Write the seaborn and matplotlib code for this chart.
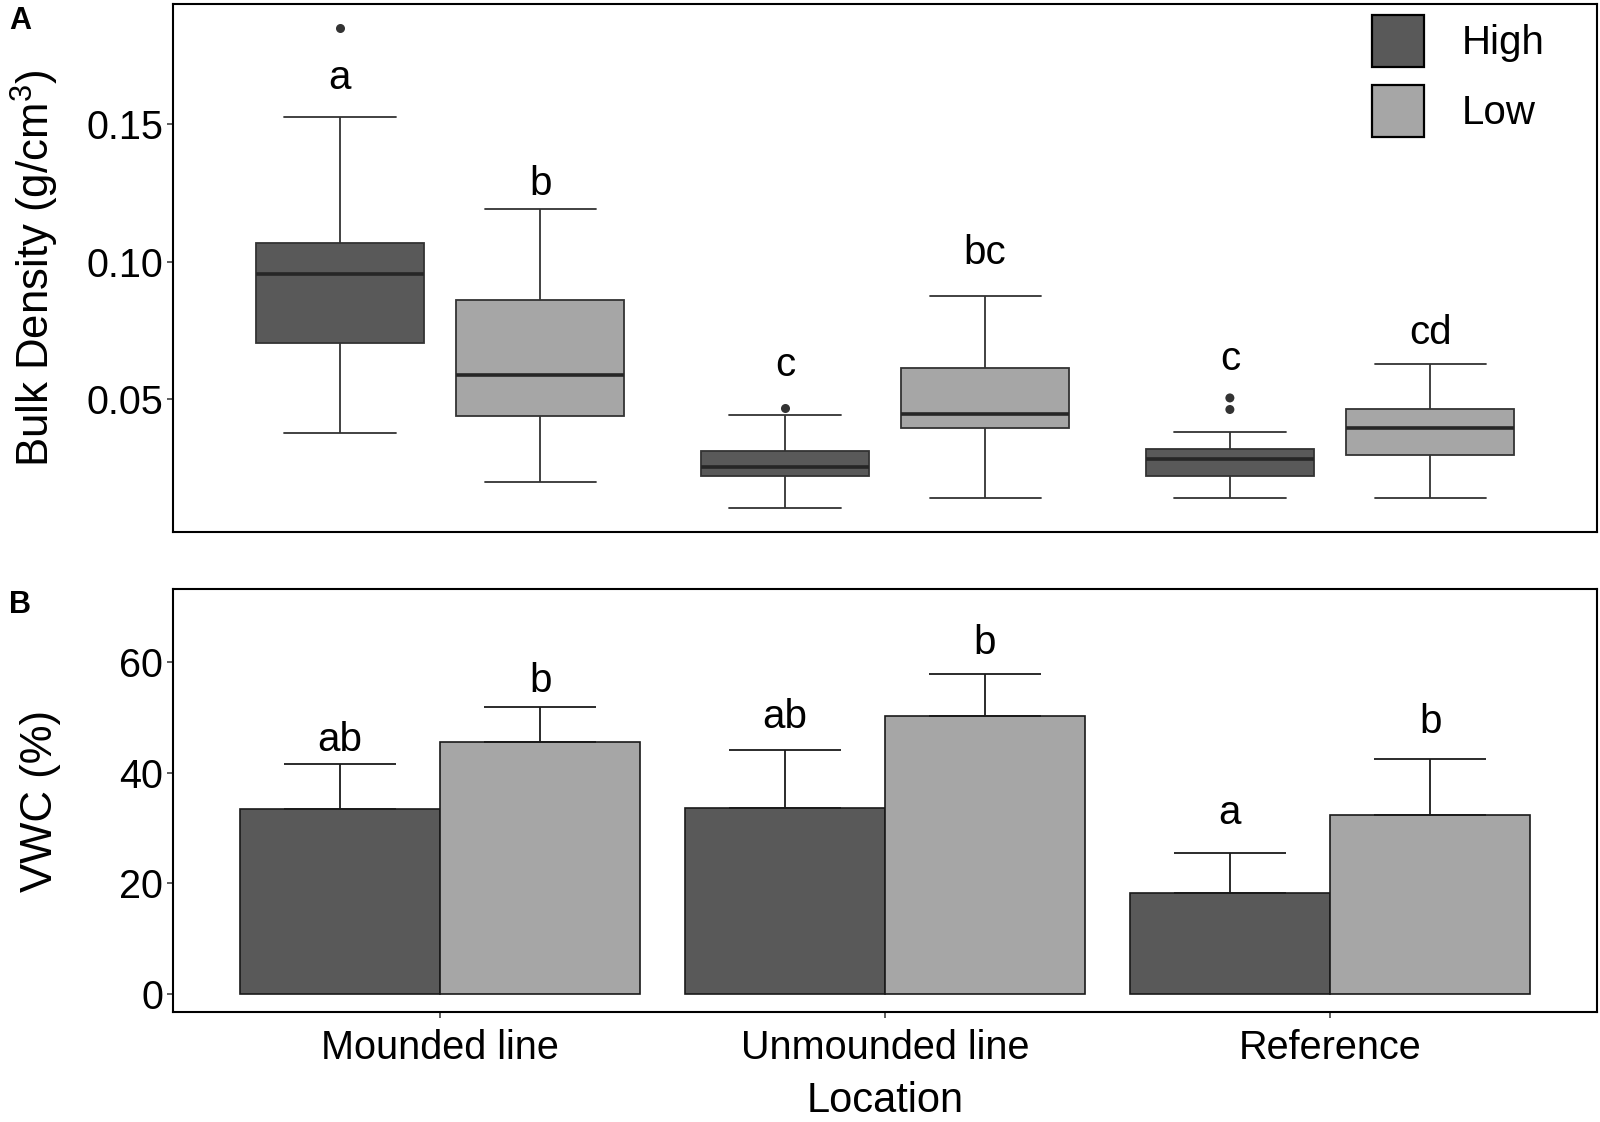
import numpy as np
import pandas as pd
import matplotlib
matplotlib.use("Agg")
import matplotlib.pyplot as plt
import seaborn as sns

# ---------------- data ----------------
locations = ["Mounded line", "Unmounded line", "Reference"]
levels = ["High", "Low"]

# Panel A: bulk density box summaries (order: M-High, M-Low, U-High, U-Low, R-High, R-Low)
box_location = ["Mounded line", "Mounded line", "Unmounded line", "Unmounded line", "Reference", "Reference"]
box_level = ["High", "Low", "High", "Low", "High", "Low"]
bd_min = [0.0378, 0.0199, 0.0105, 0.0140, 0.0140, 0.0140]
bd_q1 = [0.0705, 0.0441, 0.0221, 0.0394, 0.0222, 0.0298]
bd_med = [0.0956, 0.0589, 0.0253, 0.0446, 0.0282, 0.0397]
bd_q3 = [0.1068, 0.0861, 0.0312, 0.0612, 0.0318, 0.0463]
bd_max = [0.1526, 0.1191, 0.0442, 0.0875, 0.0381, 0.0628]
bd_letters = ["a", "b", "c", "bc", "c", "cd"]
bd_letter_y = [0.1626, 0.1243, 0.0586, 0.0991, 0.0606, 0.0701]

out_location = ["Mounded line", "Unmounded line", "Reference", "Reference"]
out_level = ["High", "High", "High", "High"]
out_value = [0.1849, 0.0470, 0.0505, 0.0463]

# Panel B: volumetric water content (mean and SE)
bar_location = ["Mounded line", "Mounded line", "Unmounded line", "Unmounded line", "Reference", "Reference"]
bar_level = ["High", "Low", "High", "Low", "High", "Low"]
vwc_mean = [33.5, 45.6, 33.6, 50.2, 18.3, 32.3]
vwc_se = [8.1, 6.3, 10.5, 7.6, 7.2, 10.2]
vwc_letters = ["ab", "b", "ab", "b", "a", "b"]
vwc_letter_y = [43.9, 54.5, 48.0, 61.5, 30.7, 47.1]

palette = {"High": "#595959", "Low": "#A6A6A6"}

# ---------------- style ----------------
sns.set_theme(style="white")
plt.rcParams["font.family"] = ["Liberation Sans", "DejaVu Sans"]
plt.rcParams["mathtext.fontset"] = "custom"
plt.rcParams["mathtext.rm"] = "Liberation Sans"
plt.rcParams["mathtext.default"] = "regular"
plt.rcParams["text.color"] = "black"
plt.rcParams["axes.labelcolor"] = "black"
plt.rcParams["xtick.color"] = "black"
plt.rcParams["ytick.color"] = "black"

fig = plt.figure(figsize=(16, 11.22), dpi=100)
ax1 = fig.add_axes([173 / 1600, 1 - 532 / 1122, 1424 / 1600, 528 / 1122])
ax2 = fig.add_axes([173 / 1600, 1 - 1012 / 1122, 1424 / 1600, 423 / 1122])

# ---------------- panel A ----------------
rows = []
for loc, lev, a, b, c, d, e in zip(box_location, box_level, bd_min, bd_q1, bd_med, bd_q3, bd_max):
    for v in (a, b, c, d, e):
        rows.append({"location": loc, "level": lev, "bd": v})
df_box = pd.DataFrame(rows)

box_w = 0.45 * (1 - 0.16)
sns.boxplot(data=df_box, x="location", y="bd", hue="level", order=locations,
            hue_order=levels, palette=palette, width=0.9, gap=0.16, whis=(0, 100),
            linecolor="#333333", linewidth=1.3, showfliers=False,
            medianprops=dict(color="#262626", linewidth=2.6), ax=ax1)

# widen whisker caps
for ln in ax1.lines:
    xd = np.asarray(ln.get_xdata(), dtype=float)
    yd = np.asarray(ln.get_ydata(), dtype=float)
    if len(xd) == 2 and yd[0] == yd[1] and abs(abs(xd[1] - xd[0]) - box_w) > 0.01:
        cx = xd.mean()
        ln.set_xdata([cx - 0.125, cx + 0.125])

df_out = pd.DataFrame({"location": out_location, "level": out_level, "bd": out_value})
sns.stripplot(data=df_out, x="location", y="bd", hue="level", order=locations,
              hue_order=levels, dodge=True, jitter=False,
              palette={"High": "#333333", "Low": "#333333"}, size=6.5,
              legend=False, ax=ax1)
for coll in ax1.collections:
    offs = np.asarray(coll.get_offsets(), dtype=float)
    if len(offs):
        c = np.round(offs[:, 0])
        offs[:, 0] = c + (offs[:, 0] - c) * 1.125
        coll.set_offsets(offs)

for i, (loc, lev) in enumerate(zip(box_location, box_level)):
    xpos = locations.index(loc) + (-0.225 if lev == "High" else 0.225)
    ax1.text(xpos, bd_letter_y[i], bd_letters[i], ha="center", va="baseline",
             fontsize=29, color="black")

ax1.set_xlim(-0.6, 2.6)
ax1.set_ylim(0.0018, 0.1936)
ax1.set_yticks([0.05, 0.10, 0.15])
ax1.set_yticklabels(["0.05", "0.10", "0.15"])
ax1.set_xticks([])
ax1.set_xlabel("")
ax1.set_ylabel("Bulk Density (g/cm$^{3}$)", fontsize=31.5)
ax1.yaxis.set_label_coords(-0.079, 0.5)

sns.move_legend(ax1, "upper left", bbox_to_anchor=(1372 / 1600, 1 - 15 / 1122),
                bbox_transform=fig.transFigure, title=None, frameon=False,
                fontsize=29, borderpad=0, borderaxespad=0,
                handlelength=1.29, handleheight=1.61, labelspacing=0.45,
                handletextpad=0.95)
leg = ax1.get_legend()
for h in leg.legend_handles:
    h.set_edgecolor("black")
    h.set_linewidth(1.6)
for t in leg.get_texts():
    t.set_color("black")

# ---------------- panel B ----------------
df_bar = pd.DataFrame({"location": bar_location, "level": bar_level, "vwc": vwc_mean})
sns.barplot(data=df_bar, x="location", y="vwc", hue="level", order=locations,
            hue_order=levels, palette=palette, width=0.9, gap=0, errorbar=None,
            edgecolor="#1a1a1a", linewidth=1.2, legend=False, ax=ax2)

for lev, cont in zip(levels, ax2.containers):
    xs, ys, es = [], [], []
    for loc, bar in zip(locations, cont):
        idx = [k for k in range(len(bar_location)) if bar_location[k] == loc and bar_level[k] == lev][0]
        xs.append(bar.get_x() + bar.get_width() / 2)
        ys.append(bar.get_height())
        es.append(vwc_se[idx])
    ax2.errorbar(xs, ys, yerr=[np.zeros(len(es)), es], fmt="none", ecolor="#1a1a1a",
                 elinewidth=1.3, capsize=40, capthick=1.3, zorder=3)
    for loc, x in zip(locations, xs):
        idx = [k for k in range(len(bar_location)) if bar_location[k] == loc and bar_level[k] == lev][0]
        ax2.text(x, vwc_letter_y[idx], vwc_letters[idx], ha="center", va="baseline",
                 fontsize=29, color="black")

ax2.set_xlim(-0.6, 2.6)
ax2.set_ylim(-3.3, 73.2)
ax2.set_yticks([0, 20, 40, 60])
ax2.set_xlabel("Location", fontsize=30)
ax2.xaxis.label.set_va("baseline")
ax2.xaxis.set_label_coords(0.5, -0.2364)
ax2.set_ylabel("VWC (%)", fontsize=31.5)
ax2.yaxis.set_label_coords(-0.079, 0.5)

for ax in (ax1, ax2):
    for sp in ax.spines.values():
        sp.set_visible(True)
        sp.set_color("black")
        sp.set_linewidth(1.5)
    ax.tick_params(axis="y", which="both", left=True, length=4, width=1.1,
                   color="#333333", labelsize=28.5, pad=3, labelcolor="black")
ax2.tick_params(axis="x", bottom=True, length=4, width=1.1, color="#333333",
                labelsize=28.5, pad=8, labelcolor="black")

fig.text(9 / 1600, 1 - 6 / 1122, "A", fontsize=22, fontweight="bold", ha="left", va="top")
fig.text(9 / 1600, 1 - 590 / 1122, "B", fontsize=22, fontweight="bold", ha="left", va="top")

fig.savefig("out.png", dpi=100)
